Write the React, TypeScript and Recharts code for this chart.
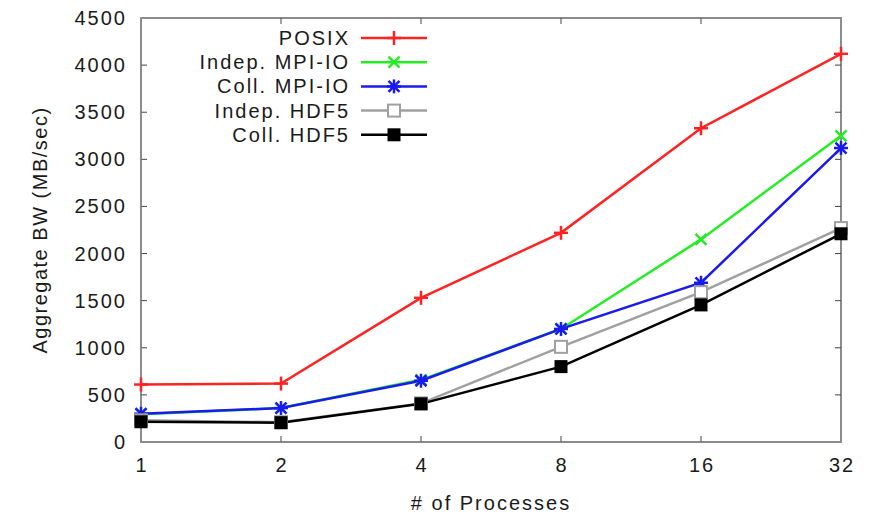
import React from "react";
import { LineChart, Line, XAxis, YAxis, Legend, ReferenceLine, ReferenceArea } from "recharts";

const PROCESSES = ["1", "2", "4", "8", "16", "32"];
const POSIX = [610, 620, 1530, 2220, 3330, 4120];
const INDEP_MPIIO = [295, 360, 660, 1200, 2150, 3250];
const COLL_MPIIO = [300, 360, 650, 1200, 1690, 3120];
const INDEP_HDF5 = [230, 210, 410, 1010, 1590, 2270];
const COLL_HDF5 = [215, 205, 405, 800, 1455, 2210];
const Y_TICKS = [0, 500, 1000, 1500, 2000, 2500, 3000, 3500, 4000, 4500];

type MarkerKind = "plus" | "cross" | "star" | "openSquare" | "square";

const SERIES: { key: string; name: string; color: string; marker: MarkerKind; values: number[] }[] = [
  { key: "posix", name: "POSIX", color: "#ff2222", marker: "plus", values: POSIX },
  { key: "indepMpi", name: "Indep. MPI-IO", color: "#22ee22", marker: "cross", values: INDEP_MPIIO },
  { key: "collMpi", name: "Coll. MPI-IO", color: "#1a1aee", marker: "star", values: COLL_MPIIO },
  { key: "indepHdf", name: "Indep. HDF5", color: "#a0a0a0", marker: "openSquare", values: INDEP_HDF5 },
  { key: "collHdf", name: "Coll. HDF5", color: "#000000", marker: "square", values: COLL_HDF5 },
];

const data = PROCESSES.map((p, i) => {
  const row: Record<string, string | number> = { p };
  SERIES.forEach((s) => (row[s.key] = s.values[i]));
  return row;
});

const FONT = "'Liberation Sans', Arial, sans-serif";
const AXIS = "#8c8c8c";
const TICK = "#444";
const TEXT = "#1a1a1a";
const TICK_LEN = 6;

function Marker({ kind, cx, cy, color }: { kind: MarkerKind; cx: number; cy: number; color: string }) {
  if (cx == null || cy == null) return null;
  const sw = 2.5;
  if (kind === "plus")
    return (
      <g stroke={color} strokeWidth={sw}>
        <line x1={cx - 7} y1={cy} x2={cx + 7} y2={cy} />
        <line x1={cx} y1={cy - 7} x2={cx} y2={cy + 7} />
      </g>
    );
  if (kind === "cross")
    return (
      <g stroke={color} strokeWidth={sw}>
        <line x1={cx - 5.5} y1={cy - 5.5} x2={cx + 5.5} y2={cy + 5.5} />
        <line x1={cx - 5.5} y1={cy + 5.5} x2={cx + 5.5} y2={cy - 5.5} />
      </g>
    );
  if (kind === "star")
    return (
      <g stroke={color} strokeWidth={sw}>
        <line x1={cx - 7} y1={cy} x2={cx + 7} y2={cy} />
        <line x1={cx} y1={cy - 7} x2={cx} y2={cy + 7} />
        <line x1={cx - 5.5} y1={cy - 5.5} x2={cx + 5.5} y2={cy + 5.5} />
        <line x1={cx - 5.5} y1={cy + 5.5} x2={cx + 5.5} y2={cy - 5.5} />
      </g>
    );
  if (kind === "openSquare")
    return <rect x={cx - 6} y={cy - 6} width={12} height={12} fill="#fff" stroke={color} strokeWidth={2} />;
  return <rect x={cx - 6.5} y={cy - 6.5} width={13} height={13} fill={color} />;
}

// inward ticks at both ends of a horizontal reference line (left + right frame)
function HTicks(props: any) {
  const { x1, y1, x2, y2 } = props;
  if (x1 == null) return null;
  return (
    <g stroke={TICK} strokeWidth={1}>
      <line x1={x1} y1={y1} x2={x1 + TICK_LEN} y2={y1} />
      <line x1={x2} y1={y2} x2={x2 - TICK_LEN} y2={y2} />
    </g>
  );
}

// same for vertical lines (bottom + top frame)
function VTicks(props: any) {
  const { x1, y1, x2, y2 } = props;
  if (x1 == null) return null;
  const top = Math.min(y1, y2);
  const bottom = Math.max(y1, y2);
  return (
    <g stroke={TICK} strokeWidth={1}>
      <line x1={x1} y1={bottom} x2={x1} y2={bottom - TICK_LEN} />
      <line x1={x2} y1={top} x2={x2} y2={top + TICK_LEN} />
    </g>
  );
}

function LeftTick({ x, y, payload }: any) {
  return (
    <text x={x} y={y} textAnchor="end" dominantBaseline="central" fontSize={20} letterSpacing={2} fill={TEXT} fontFamily={FONT}>
      {payload.value}
    </text>
  );
}

function BottomTick({ x, y, payload }: any) {
  return (
    <text x={x + 1} y={y + 9} textAnchor="middle" dominantBaseline="central" fontSize={20} letterSpacing={2} fill={TEXT} fontFamily={FONT}>
      {payload.value}
    </text>
  );
}

function LegendBox() {
  return (
    <svg width={440} height={160} style={{ display: "block" }}>
      {SERIES.map((s, i) => {
        const y = 38 + i * 24.2;
        return (
          <g key={s.key}>
            <text
              x={350}
              y={y}
              textAnchor="end"
              dominantBaseline="central"
              fontSize={20}
              letterSpacing={2}
              fontFamily={FONT}
              fill={TEXT}
            >
              {s.name}
            </text>
            <line x1={361} y1={y} x2={427} y2={y} stroke={s.color} strokeWidth={2.5} />
            <Marker kind={s.marker} cx={394} cy={y} color={s.color} />
          </g>
        );
      })}
    </svg>
  );
}

export default function App() {
  return (
    <div style={{ position: "absolute", left: 0, top: 0, background: "#fff" }}>
      <LineChart
        width={877}
        height={515}
        data={data}
        margin={{ top: 18, right: 36, bottom: 0, left: 0 }}
        style={{ fontFamily: FONT }}
      >
        <XAxis
          dataKey="p"
          height={73}
          stroke={AXIS}
          tickLine={false}
          tickSize={0}
          tickMargin={14}
          tick={<BottomTick />}
          interval={0}
          label={{
            value: "# of Processes",
            position: "insideBottom",
            offset: 5,
            fontSize: 20,
            letterSpacing: 2,
            fill: TEXT,
          }}
        />
        <YAxis
          width={141}
          domain={[0, 4500]}
          ticks={Y_TICKS}
          stroke={AXIS}
          tickLine={false}
          tickSize={0}
          tickMargin={14}
          tick={<LeftTick />}
          interval={0}
          label={{
            value: "Aggregate BW (MB/sec)",
            angle: -90,
            position: "center",
            dx: -31,
            fontSize: 20,
            letterSpacing: 1.5,
            fill: TEXT,
          }}
        />
        <ReferenceArea
          x1="1"
          x2="32"
          y1={0}
          y2={4500}
          fill="none"
          fillOpacity={0}
          stroke={AXIS}
          strokeWidth={2}
          ifOverflow="visible"
        />
        {Y_TICKS.slice(1, -1).map((t) => (
          <ReferenceLine key={`y${t}`} y={t} shape={<HTicks />} ifOverflow="visible" />
        ))}
        {PROCESSES.slice(1, -1).map((p) => (
          <ReferenceLine key={`x${p}`} x={p} shape={<VTicks />} ifOverflow="visible" />
        ))}
        <Legend
          layout="vertical"
          align="center"
          verticalAlign="middle"
          wrapperStyle={{ position: "absolute", left: 0, top: 0, width: 440, height: 160 }}
          content={() => <LegendBox />}
        />
        {SERIES.map((s) => (
          <Line
            key={s.key}
            dataKey={s.key}
            name={s.name}
            stroke={s.color}
            strokeWidth={2.5}
            isAnimationActive={false}
            dot={(props: any) => (
              <Marker key={`${s.key}-${props.index}`} kind={s.marker} cx={props.cx} cy={props.cy} color={s.color} />
            )}
            activeDot={false}
          />
        ))}
      </LineChart>
    </div>
  );
}
